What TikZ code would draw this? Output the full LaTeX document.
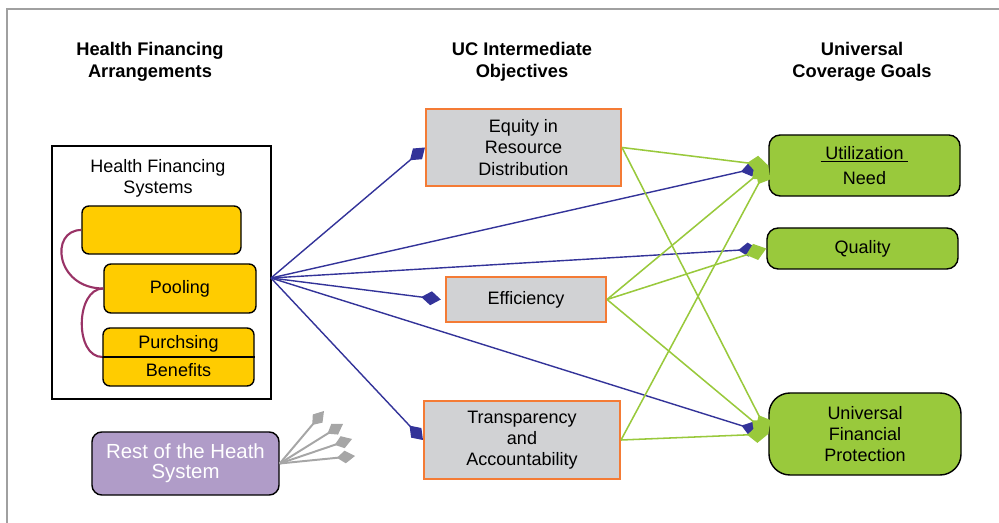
\documentclass[tikz,border=0pt]{standalone}
\usepackage{fontspec}
\setmainfont{Liberation Sans}
\usetikzlibrary{arrows.meta}

\definecolor{ucorange}{HTML}{F47B35}
\definecolor{ucgray}{HTML}{D1D2D4}
\definecolor{ucyellow}{HTML}{FFCC00}
\definecolor{ucgreen}{HTML}{99C93C}
\definecolor{ucblue}{HTML}{333399}
\definecolor{ucplum}{HTML}{993366}
\definecolor{ucpurple}{HTML}{B09CC8}
\definecolor{ucframe}{HTML}{A0A0A0}
\definecolor{ucarrow}{HTML}{A6A6A6}

\tikzset{
	txt/.style={font=\fontsize{12.8}{15}\selectfont, align=center},
	head/.style={font=\bfseries\fontsize{13}{15.6}\selectfont, align=center},
	objbox/.style={txt, draw=ucorange, line width=1.4pt, fill=ucgray, inner sep=0pt},
	goalbox/.style={txt, draw=black, line width=1pt, fill=ucgreen, rounded corners=8pt, inner sep=0pt},
	ybox/.style={txt, draw=black, line width=1pt, fill=ucyellow, rounded corners=5pt, inner sep=0pt}
}

\begin{document}
\begin{tikzpicture}[x=0.025cm, y=-0.025cm]
		\useasboundingbox (0,0) rectangle (999,523);
		\draw[ucframe, line width=1pt] (999,9) -- (7,9) -- (7,523);

		% column headings
		\node[head] (hfa) at (150,62) {Health Financing\\Arrangements};
		\node[head] (uci) at (522,62) {UC Intermediate\\Objectives};
		\node[head] (ucg) at (862,62) {Universal\\Coverage Goals};

		% financing arrangements
		\node[draw=black, line width=1pt, minimum width=5.475cm, minimum height=6.325cm] (hfs) at (161.5,272.5) {};
		\node[txt] (hfst) at (158,178) {Health Financing\\Systems};
		\node[ybox, minimum width=3.975cm, minimum height=1.2cm] (coll) at (161.5,230) {};
		\node[ybox, minimum width=3.8cm, minimum height=1.225cm] (pool) at (180,288.5) {Pooling};
		\node[ybox, minimum width=3.775cm, minimum height=1.45cm] (purch) at (178.5,357) {};
		\draw[line width=1pt] (purch.west) -- (purch.east);
		\node[txt] (purt) at (178.5,344) {Purchsing};
		\node[txt] (bent) at (178.5,370) {Benefits};
		\draw[ucplum, line width=1.5pt] (coll.west) .. controls +(-32,0) and +(-48,0) .. (pool.west);
		\draw[ucplum, line width=1.5pt] (pool.west) .. controls +(-28,0) and +(-28,0) .. (purch.west);

		\node[draw=black, line width=1pt, fill=ucpurple, rounded corners=7pt, text=white, align=center,
			font=\fontsize{14.5}{14.5}\selectfont, minimum width=4.675cm, minimum height=1.575cm] (rest) at (185.5,463.5) {Rest of the Heath\\System};

		% intermediate objectives
		\node[objbox, minimum width=4.875cm, minimum height=1.925cm] (equity) at (523.5,147.5) {Equity in\\Resource\\Distribution};
		\node[objbox, minimum width=4cm, minimum height=1.125cm] (effic) at (526,299.5) {Efficiency};
		\node[objbox, minimum width=4.9cm, minimum height=1.95cm] (transp) at (522,440) {Transparency\\and\\Accountability};

		% goals
		\node[goalbox, minimum width=4.775cm, minimum height=1.525cm] (util) at (864.5,165.5) {\underline{\hspace{3.5pt}Utilization\hspace{3.5pt}}\\[3pt]Need};
		\node[goalbox, minimum width=4.775cm, minimum height=1.025cm] (qual) at (862.5,248.5) {Quality};
		\node[goalbox, rounded corners=15pt, minimum width=4.8cm, minimum height=2.05cm] (ufp) at (865,434) {Universal\\Financial\\Protection};

		\coordinate (hub) at (271,278);
		\coordinate (g1) at (324,411);
		\coordinate (g2) at (343,424);
		\coordinate (g3) at (352,439);
		\coordinate (g4) at (355,456);

		\begin{scope}[>={Kite[length=13pt,width=9pt,inset=6pt]},
					every edge/.style={draw=ucarrow, line width=1.4pt}]
			\path [->] (rest.east) edge (g1) edge (g2) edge (g3) edge (g4);
		\end{scope}

		\begin{scope}[>={Kite[length=14pt,width=10pt,inset=7pt]},
					every edge/.style={draw=ucblue, line width=1pt}]
			\path [->] (hub) edge (equity.west) edge ([xshift=-3pt]effic.west) edge (transp.west);
			\path [->, shorten >=6pt] (hub) edge (util.west) edge (qual.west) edge (ufp.west);
		\end{scope}

		\begin{scope}[>={Kite[length=15pt,width=12pt,inset=7pt]},
					every edge/.style={draw=ucgreen, line width=1.1pt}]
			\path [->] (equity.east) edge (util.west) edge (ufp.west);
			\path [->] (effic.east) edge (util.west) edge (qual.west) edge (ufp.west);
			\path [->] (transp.east) edge (util.west) edge (ufp.west);
		\end{scope}
	\end{tikzpicture}
\end{document}
